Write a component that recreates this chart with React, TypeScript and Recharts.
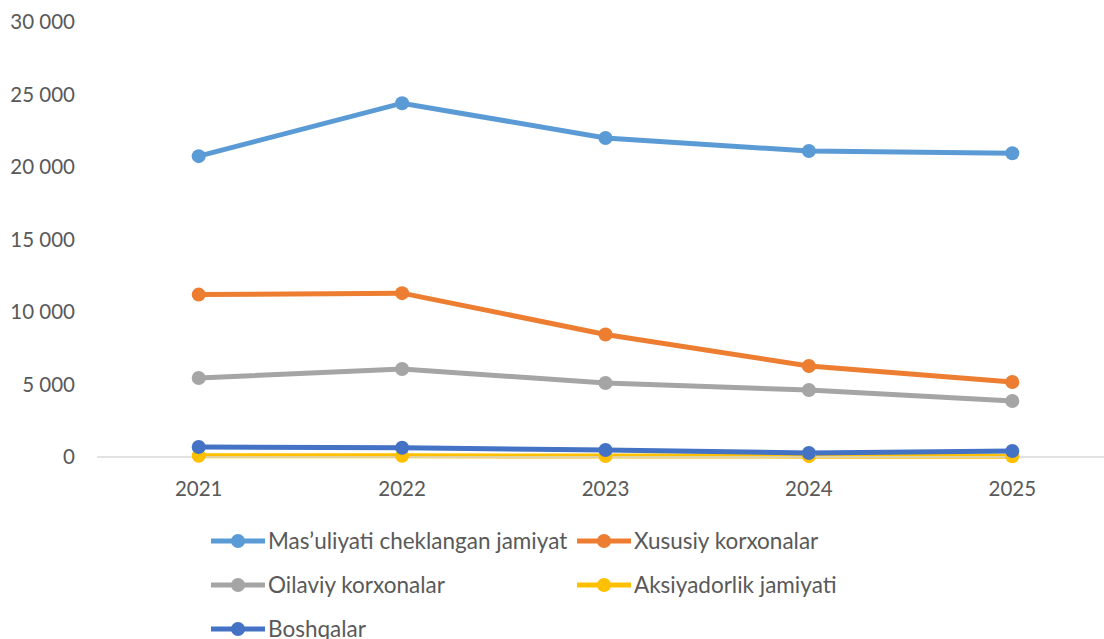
import React from "react";
import { LineChart, Line, XAxis, YAxis } from "recharts";

const years = [2021, 2022, 2023, 2024, 2025];
const mchj = [20750, 24400, 22000, 21100, 20950];
const xususiy = [11200, 11300, 8450, 6280, 5170];
const oilaviy = [5450, 6070, 5100, 4620, 3860];
const aksiyadorlik = [90, 80, 70, 60, 50];
const boshqalar = [690, 640, 480, 280, 410];

const yTicks = [0, 5000, 10000, 15000, 20000, 25000, 30000];
const bandEdges = [2020.5, 2021.5, 2022.5, 2023.5, 2024.5, 2025.5];

const series = [
  { key: "mchj", name: "Mas\u2019uliyati cheklangan jamiyat", color: "#5B9BD5", values: mchj },
  { key: "xususiy", name: "Xususiy korxonalar", color: "#ED7D31", values: xususiy },
  { key: "oilaviy", name: "Oilaviy korxonalar", color: "#A5A5A5", values: oilaviy },
  { key: "aksiyadorlik", name: "Aksiyadorlik jamiyati", color: "#FFC000", values: aksiyadorlik },
  { key: "boshqalar", name: "Boshqalar", color: "#4472C4", values: boshqalar },
];

const data = years.map((year, i) => {
  const row: Record<string, number> = { year };
  series.forEach((s) => (row[s.key] = s.values[i]));
  return row;
});

const FONT = "Lato, 'Open Sans', sans-serif";
const TEXT = "#595959";

const fmt = (v: number) => String(v).replace(/\B(?=(\d{3})+(?!\d))/g, " ");

const LegendIcon = ({ color }: { color: string }) => (
  <svg width={56} height={16} style={{ display: "block" }}>
    <line x1={1} y1={8} x2={55} y2={8} stroke={color} strokeWidth={5} />
    <circle cx={28} cy={8} r={7} fill={color} />
  </svg>
);

export default function App() {
  return (
    <div
      style={{
        position: "absolute",
        left: 0,
        top: 0,
        width: 1104,
        height: 639,
        overflow: "hidden",
        background: "#fff",
        fontFamily: FONT,
      }}
    >
      <LineChart
        width={1120}
        height={639}
        data={data}
        margin={{ top: 22, right: 6, left: 0, bottom: 132 }}
      >
        <YAxis
          domain={[0, 30000]}
          ticks={yTicks}
          width={97}
          axisLine={false}
          tickLine={false}
          tickSize={0}
          tickMargin={22}
          tickFormatter={fmt}
          tick={{ fill: TEXT, fontSize: 20.5, fontFamily: FONT }}
        />
        <XAxis
          xAxisId="edges"
          type="number"
          dataKey="year"
          domain={[2020.5, 2025.5]}
          ticks={bandEdges}
          height={10}
          tickSize={10}
          tick={false}
          stroke="#D9D9D9"
          axisLine={{ stroke: "#D9D9D9", strokeWidth: 1.5 }}
          tickLine={{ stroke: "#D9D9D9", strokeWidth: 1.5 }}
        />
        <XAxis
          xAxisId="years"
          type="number"
          dataKey="year"
          domain={[2020.5, 2025.5]}
          ticks={years}
          height={40}
          axisLine={false}
          tickLine={false}
          tickSize={0}
          tickMargin={14}
          tick={{ fill: TEXT, fontSize: 20.5, fontFamily: FONT }}
        />
        {series.map((s) => (
          <Line
            key={s.key}
            xAxisId="years"
            dataKey={s.key}
            name={s.name}
            stroke={s.color}
            strokeWidth={5}
            dot={{ r: 7, fill: s.color, stroke: s.color, strokeWidth: 0 }}
            isAnimationActive={false}
          />
        ))}
      </LineChart>
      <div
        style={{
          position: "absolute",
          left: 210,
          top: 528,
          display: "grid",
          gridTemplateColumns: "366px 360px",
          rowGap: 18,
          color: TEXT,
          fontSize: 22.5,
          lineHeight: "26px",
        }}
      >
        {series.map((s) => (
          <div key={s.key} style={{ display: "flex", alignItems: "center", whiteSpace: "nowrap" }}>
            <LegendIcon color={s.color} />
            <span style={{ marginLeft: 2 }}>{s.name}</span>
          </div>
        ))}
      </div>
    </div>
  );
}
